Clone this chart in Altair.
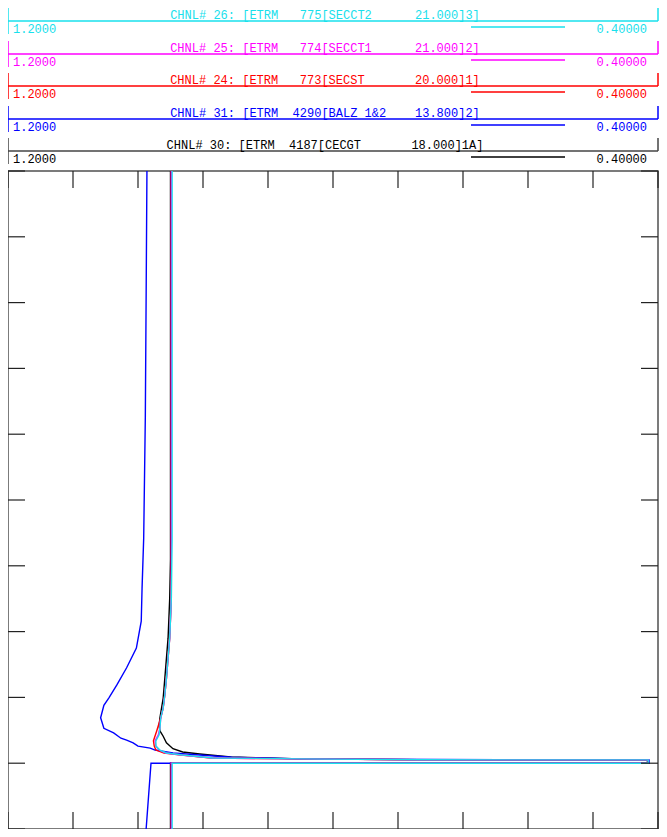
import altair as alt
import pandas as pd

# ---------------- data ----------------
# channel order (drawing order: black first, cyan last)
chan_names = ["CHNL# 30", "CHNL# 31", "CHNL# 24", "CHNL# 25", "CHNL# 26"]
chan_colors = ["#000000", "#0000FF", "#FF0000", "#FF00FF", "#18E0EC"]

# time (s) and voltage (pu) for each channel
t_30 = [0, 1.0, 1.0, 1.05, 1.052, 1.065, 1.094, 1.14, 1.17, 1.22, 1.31, 1.41, 1.49, 1.57, 1.69, 1.99, 2.29, 2.9, 3.5, 4.1, 5.5, 7.0, 8.5, 10.0]
v_30 = [1.000, 1.000, 0.413, 0.413, 0.693, 0.839, 0.926, 0.964, 0.985, 0.997, 1.005, 1.009, 1.013, 1.014, 1.013, 1.009, 1.007, 1.003, 1.001, 1.000, 1.000, 1.000, 1.000, 1.000]

t_31 = [0, 1.0, 1.0, 1.05, 1.052, 1.065, 1.09, 1.12, 1.155, 1.2, 1.23, 1.26, 1.31, 1.35, 1.38, 1.46, 1.53, 1.69, 1.88, 1.99, 2.19, 2.45, 2.75, 3.16, 3.66, 4.42, 5.33, 6.25, 8.07, 10.0]
v_31 = [1.030, 1.024, 0.411, 0.411, 0.596, 0.839, 0.924, 0.960, 0.997, 1.019, 1.025, 1.040, 1.046, 1.054, 1.061, 1.070, 1.082, 1.086, 1.082, 1.076, 1.066, 1.054, 1.042, 1.036, 1.035, 1.033, 1.032, 1.031, 1.030, 1.029]

t_24 = [0, 1.0, 1.0, 1.05, 1.052, 1.065, 1.08, 1.125, 1.155, 1.2, 1.26, 1.34, 1.49, 1.69, 1.84, 2.04, 2.29, 2.9, 3.5, 4.4, 6.0, 8.0, 10.0]
v_24 = [0.999, 0.999, 0.412, 0.412, 0.700, 0.845, 0.950, 0.987, 1.008, 1.018, 1.020, 1.021, 1.017, 1.012, 1.009, 1.007, 1.005, 1.001, 0.999, 0.999, 0.999, 0.999, 0.999]

t_25 = [0, 1.0, 1.0, 1.05, 1.052, 1.065, 1.08, 1.125, 1.155, 1.2, 1.26, 1.34, 1.43, 1.54, 1.69, 1.84, 2.04, 2.29, 2.9, 3.5, 4.4, 6.0, 8.0, 10.0]
v_25 = [0.999, 0.999, 0.412, 0.412, 0.698, 0.842, 0.949, 0.986, 1.006, 1.014, 1.018, 1.019, 1.015, 1.013, 1.012, 1.009, 1.007, 1.005, 1.001, 0.999, 0.999, 0.999, 0.999, 0.999]

t_26 = [0, 1.0, 1.0, 1.05, 1.052, 1.065, 1.08, 1.125, 1.155, 1.2, 1.26, 1.34, 1.43, 1.54, 1.69, 1.84, 2.04, 2.29, 2.9, 3.5, 4.4, 6.0, 8.0, 10.0]
v_26 = [0.998, 0.998, 0.412, 0.412, 0.695, 0.840, 0.948, 0.985, 1.005, 1.013, 1.018, 1.018, 1.014, 1.013, 1.012, 1.009, 1.007, 1.005, 1.001, 0.999, 0.998, 0.998, 0.998, 0.998]

series_t = [t_30, t_31, t_24, t_25, t_26]
series_v = [v_30, v_31, v_24, v_25, v_26]

# header texts (top to bottom)
head_titles = [
    "CHNL# 26: [ETRM   775[SECCT2      21.000]3]",
    "CHNL# 25: [ETRM   774[SECCT1      21.000]2]",
    "CHNL# 24: [ETRM   773[SECST       20.000]1]",
    "CHNL# 31: [ETRM  4290[BALZ 1&2    13.800]2]",
    "CHNL# 30: [ETRM  4187[CECGT       18.000]1A]",
]
head_colors = ["#18E0EC", "#FF00FF", "#FF0000", "#0000FF", "#000000"]
head_frame = ["#18E0EC", "#FF00FF", "#FF0000", "#0000FF", "#444444"]
head_line = ["#18E0EC", "#FF00FF", "#FF0000", "#0000FF", "#000000"]
scale_min_label = "1.2000"
scale_max_label = "0.40000"

x_ticks = [1.2, 1.12, 1.04, 0.96, 0.88, 0.80, 0.72, 0.64, 0.56, 0.48, 0.40]
y_ticks = [0, 1, 2, 3, 4, 5, 6, 7, 8, 9, 10]

# ---------------- layout ----------------
W, H = 650, 658
TOP = 163
band_y = [-150, -117, -85, -52, -20]   # header line positions relative to plot top
FONT = "Liberation Mono"

xscale = alt.Scale(domain=[0.4, 1.2], reverse=True, nice=False, zero=False)
yscale = alt.Scale(domain=[0, 10], nice=False, zero=False)
one = alt.Data(values=[{}])

layers = []

# curves
for name, col, ts, vs in zip(chan_names, chan_colors, series_t, series_v):
    df = pd.DataFrame({"t": ts, "v": vs, "i": list(range(len(ts))), "ch": name})
    layers.append(
        alt.Chart(df).mark_line(color=col, strokeWidth=1.4).encode(
            x=alt.X("v:Q", scale=xscale, axis=None),
            y=alt.Y("t:Q", scale=yscale, axis=None),
            order=alt.Order("i:Q"),
        )
    )

# ticks (inward)
dfx = pd.DataFrame({"v": x_ticks})
dfy = pd.DataFrame({"t": y_ticks})
tick_style = dict(color="#222222", strokeWidth=1.2)
layers.append(alt.Chart(dfx).mark_rule(**tick_style).encode(
    x=alt.X("v:Q", scale=xscale, axis=None), y=alt.value(0), y2=alt.value(17)))
layers.append(alt.Chart(dfx).mark_rule(**tick_style).encode(
    x=alt.X("v:Q", scale=xscale, axis=None), y=alt.value(H - 17), y2=alt.value(H)))
layers.append(alt.Chart(dfy).mark_rule(**tick_style).encode(
    y=alt.Y("t:Q", scale=yscale, axis=None), x=alt.value(0), x2=alt.value(17)))
layers.append(alt.Chart(dfy).mark_rule(**tick_style).encode(
    y=alt.Y("t:Q", scale=yscale, axis=None), x=alt.value(W - 17), x2=alt.value(W)))

# header bands
for L, title, tc, fc, lc in zip(band_y, head_titles, head_colors, head_frame, head_line):
    layers.append(alt.Chart(one).mark_rule(color=fc, strokeWidth=1.5).encode(
        x=alt.value(0), x2=alt.value(W), y=alt.value(L)))
    layers.append(alt.Chart(one).mark_rule(color=fc, strokeWidth=1.5).encode(
        x=alt.value(0), y=alt.value(L - 13), y2=alt.value(L + 13)))
    layers.append(alt.Chart(one).mark_rule(color=fc, strokeWidth=1.5).encode(
        x=alt.value(W), y=alt.value(L - 13), y2=alt.value(L)))
    layers.append(alt.Chart(one).mark_rule(color=lc, strokeWidth=1.6).encode(
        x=alt.value(463), x2=alt.value(557), y=alt.value(L + 6)))
    layers.append(alt.Chart(one).mark_text(
        font=FONT, fontSize=12, color=tc, align="center", baseline="alphabetic"
    ).encode(x=alt.value(317), y=alt.value(L - 2),
             text=alt.value(title.replace(" ", "\u00a0"))))
    layers.append(alt.Chart(one).mark_text(
        font=FONT, fontSize=12, color=tc, align="left", baseline="alphabetic"
    ).encode(x=alt.value(5), y=alt.value(L + 12), text=alt.value(scale_min_label)))
    layers.append(alt.Chart(one).mark_text(
        font=FONT, fontSize=12, color=tc, align="right", baseline="alphabetic"
    ).encode(x=alt.value(639), y=alt.value(L + 12), text=alt.value(scale_max_label)))

chart = alt.layer(*layers).properties(
    width=W, height=H,
    padding={"left": 0, "top": TOP, "right": 1, "bottom": 0},
    autosize=alt.AutoSizeParams(type="none"),
).configure_view(stroke="#505050", strokeWidth=1.5)

chart.save("out.html", embed_options={"renderer": "svg", "actions": False})
